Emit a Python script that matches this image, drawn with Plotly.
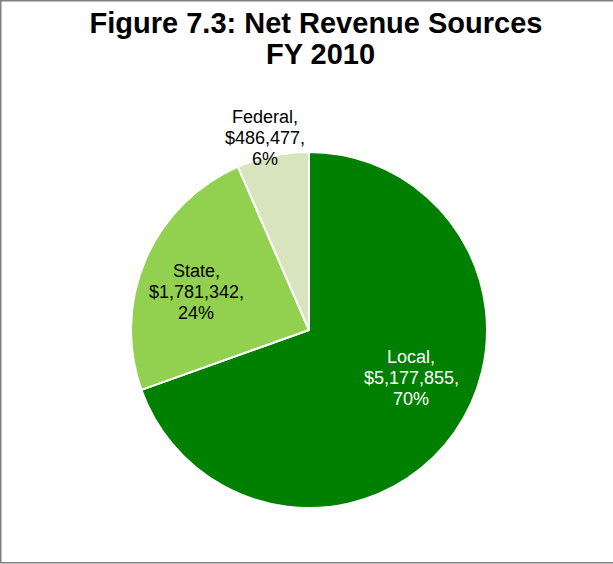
import plotly.graph_objects as go

# ---- data ----
sources = ["Local", "State", "Federal"]
revenue = [5177855, 1781342, 486477]
percent_labels = [70, 24, 6]
slice_colors = ["#008000", "#92D050", "#D7E4BD"]
label_text_colors = ["#FFFFFF", "#000000", "#000000"]
title_line1 = "Figure 7.3: Net Revenue Sources"
title_line2 = "FY 2010"

W, H = 613, 564
# label block centres in pixels (layout only)
label_px = [(411, 378), (196, 292), (265, 138)]
LINE_GAP = 21

fig = go.Figure()
fig.add_trace(go.Pie(
    labels=sources,
    values=revenue,
    sort=False,
    direction="clockwise",
    rotation=0,
    marker=dict(colors=slice_colors, line=dict(color="#FFFFFF", width=2)),
    textinfo="none",
    showlegend=False,
    domain=dict(x=[131 / W, 487 / W], y=[1 - 508 / H, 1 - 152 / H]),
))

annotations = []
for name, val, pct, col, (px, py) in zip(sources, revenue, percent_labels,
                                         label_text_colors, label_px):
    lines = [f"{name},", f"${val:,},", f"{pct}%"]
    for i, line in enumerate(lines):
        annotations.append(dict(
            text=line,
            x=px / W, y=1 - (py + (i - 1) * LINE_GAP) / H, xref="paper", yref="paper",
            xanchor="center", yanchor="middle", showarrow=False, align="center",
            font=dict(family="Liberation Sans, Arial", size=18, color=col),
        ))

annotations.append(dict(
    text=title_line2, x=320 / W, y=1 - 54 / H, xref="paper", yref="paper",
    xanchor="center", yanchor="middle", showarrow=False,
    font=dict(family="Liberation Sans, Arial", size=29, color="#000000", weight="bold"),
))

border = dict(color="#808080", width=1.5)
shapes = [
    dict(type="line", xref="paper", yref="paper", x0=0.75 / W, x1=0.75 / W,
         y0=1 - 563 / H, y1=1.0, line=border, layer="above"),
    dict(type="line", xref="paper", yref="paper", x0=0, x1=1.0,
         y0=1 - 0.75 / H, y1=1 - 0.75 / H, line=border, layer="above"),
    dict(type="line", xref="paper", yref="paper", x0=0, x1=1.0,
         y0=1 - 562.75 / H, y1=1 - 562.75 / H, line=border, layer="above"),
]

fig.update_layout(
    width=W, height=H,
    margin=dict(l=0, r=0, t=0, b=0),
    paper_bgcolor="#FFFFFF",
    plot_bgcolor="#FFFFFF",
    title=dict(
        text=title_line1, x=316 / W, xanchor="center",
        y=1 - 23 / H, yanchor="middle", xref="container", yref="container",
        font=dict(family="Liberation Sans, Arial", size=29, color="#000000", weight="bold"),
    ),
    annotations=annotations,
    shapes=shapes,
)

fig.write_html(
    "out.html",
    config={"displayModeBar": False},
    post_script="document.body.style.margin='0';document.body.style.overflow='hidden';",
)
